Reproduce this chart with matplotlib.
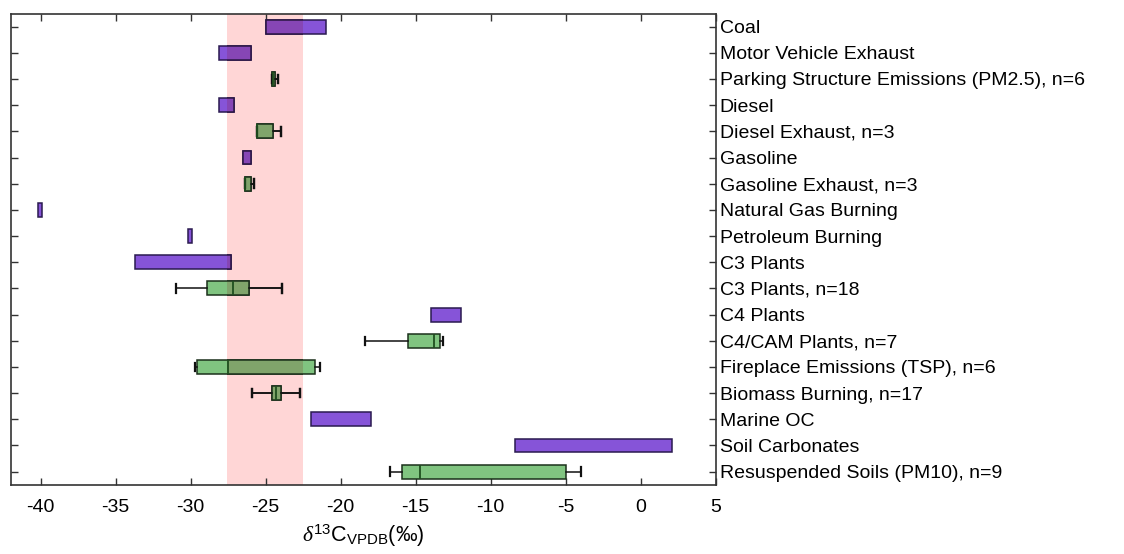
import matplotlib
matplotlib.use('Agg')
import matplotlib.pyplot as plt
import matplotlib.colors as mcolors
import numpy as np

plt.rcParams['font.family'] = ['Liberation Sans', 'DejaVu Sans']
plt.rcParams['mathtext.fontset'] = 'custom'
plt.rcParams['mathtext.rm'] = 'Liberation Sans'
plt.rcParams['mathtext.it'] = 'Liberation Serif:italic'

# ─── Data ────────────────────────────────────────────────────────────────────
labels = ["Coal", "Motor Vehicle Exhaust", "Parking Structure Emissions (PM2.5), n=6",
          "Diesel", "Diesel Exhaust, n=3", "Gasoline", "Gasoline Exhaust, n=3",
          "Natural Gas Burning", "Petroleum Burning", "C3 Plants", "C3 Plants, n=18",
          "C4 Plants", "C4/CAM Plants, n=7", "Fireplace Emissions (TSP), n=6",
          "Biomass Burning, n=17", "Marine OC", "Soil Carbonates",
          "Resuspended Soils (PM10), n=9"]

# literature ranges (purple bars): row index (1 = top), low, high
range_rows = [1, 2, 4, 6, 8, 9, 10, 12, 16, 17]
range_lo = [-25.0, -28.1, -28.1, -26.5, -40.2, -30.2, -33.7, -14.0, -22.0, -8.4]
range_hi = [-21.0, -26.0, -27.1, -26.0, -39.9, -29.9, -27.3, -12.0, -18.0, 2.1]

# measured distributions (green box plots)
box_rows = [3, 5, 7, 11, 13, 14, 15, 18]
whislo = [-24.6, -25.6, -26.4, -31.0, -18.4, -29.7, -25.9, -16.7]
q1 = [-24.6, -25.6, -26.4, -28.9, -15.5, -29.6, -24.6, -15.9]
med = [-24.5, -25.6, -26.4, -27.2, -13.8, -27.5, -24.3, -14.7]
q3 = [-24.4, -24.5, -26.0, -26.1, -13.4, -21.7, -24.0, -5.0]
whishi = [-24.2, -24.0, -25.8, -23.9, -13.2, -21.4, -22.7, -4.0]

band = (-27.6, -22.5)
xticks = np.arange(-40, 6, 5)

# ─── Style ───────────────────────────────────────────────────────────────────
PURPLE = "#8654D8"
PURPLE_EDGE = "#2A1A50"
GREEN = "#80C480"
GREEN_EDGE = "#1B301B"
MED_COL = "#1F4F1F"
PINK = "#FFD6D6"
SPINE = "#333333"
H = 0.53
FS = 14


def mult(c1, c2):
    a, b = np.array(mcolors.to_rgb(c1)), np.array(mcolors.to_rgb(c2))
    return tuple(a * b)


fig = plt.figure(figsize=(11.24, 5.54), dpi=100)
ax = fig.add_axes([0.0095, 0.125, 0.6272, 0.8506])

band_patch = ax.axvspan(*band, color=PINK, lw=0, zorder=1)

# purple range bars, then a "multiplied" copy clipped to the band
lo = np.array(range_lo); hi = np.array(range_hi)
for fc, ec, clip, z in [(PURPLE, PURPLE_EDGE, False, 2),
                        (mult(PURPLE, PINK), mult(PURPLE_EDGE, PINK), True, 2.5)]:
    bars = ax.barh(range_rows, hi - lo, left=lo, height=H, color=fc,
                   edgecolor=ec, linewidth=1.1, zorder=z)
    if clip:
        for b in bars:
            b.set_clip_path(band_patch)

stats = [dict(whislo=a, q1=b, med=c, q3=d, whishi=e)
         for a, b, c, d, e in zip(whislo, q1, med, q3, whishi)]
for fc, clip, z in [(GREEN, False, 2), (mult(GREEN, PINK), True, 2.5)]:
    art = ax.bxp(stats, positions=box_rows, orientation='horizontal', widths=H,
                 capwidths=0.32, patch_artist=True, showfliers=False,
                 boxprops=dict(facecolor=fc, edgecolor=GREEN_EDGE, linewidth=1.1),
                 medianprops=dict(color=MED_COL, linewidth=1.3),
                 whiskerprops=dict(color='#111111', linewidth=1.1),
                 capprops=dict(color='#111111', linewidth=1.6),
                 zorder=z, manage_ticks=False)
    if clip:
        for key in ['boxes', 'medians', 'whiskers', 'caps']:
            for a in art[key]:
                a.set_clip_path(band_patch)

# ─── Axes ────────────────────────────────────────────────────────────────────
ax.set_xlim(-42, 5)
ax.set_ylim(len(labels) + 0.5, 0.5)
ax.set_xticks(xticks)
ax.set_xticklabels([f"{t}" for t in xticks])
ax.set_yticks(np.arange(1, len(labels) + 1))
ax.set_yticklabels(labels)
ax.yaxis.tick_right()
ax.tick_params(axis='y', which='both', left=True, right=True, direction='in',
               length=5, width=1.0, color=SPINE, labelsize=FS, pad=3)
ax.tick_params(axis='x', which='both', top=True, bottom=True, direction='in',
               length=5, width=1.0, color=SPINE, labelsize=FS, pad=10)
for s in ax.spines.values():
    s.set_color(SPINE)
    s.set_linewidth(1.2)
    s.set_zorder(5)

ax.set_xlabel(r'$\delta^{13}\mathrm{C}_{\mathrm{VPDB}}$(‰)', fontsize=15.5, labelpad=5)

fig.savefig("out.png", dpi=100, facecolor='white')
